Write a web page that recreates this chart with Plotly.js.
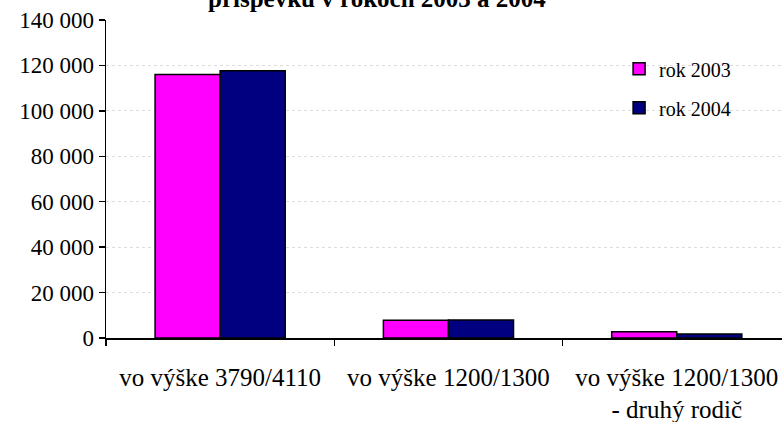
<!DOCTYPE html>
<html>
<head>
<meta charset="utf-8">
<script src="https://cdn.plot.ly/plotly-3.0.1.min.js"></script>
<style>html,body{margin:0;padding:0;background:#fff;}#chart{width:782px;height:422px;}</style>
</head>
<body>
<div id="chart"></div>
<script>
const categories = ["vo výške 3790/4110", "vo výške 1200/1300", "vo výške 1200/1300<br>- druhý rodič"];
const seriesNames = ["rok 2003", "rok 2004"];
const rok2003 = [116000, 7800, 2700];
const rok2004 = [117700, 7900, 1800];
const yTicks = [0, 20000, 40000, 60000, 80000, 100000, 120000, 140000];
const titleText = "príspevku v rokoch 2003 a 2004";

const font = "Liberation Serif, Times New Roman, serif";
const traces = [
  {type: "bar", name: seriesNames[0], x: categories, y: rok2003, legendgroup: "a",
   marker: {color: "#ff00ff", line: {color: "#000000", width: 1.5}}},
  {type: "bar", name: seriesNames[1], x: categories, y: rok2004, legendgroup: "b",
   marker: {color: "#000080", line: {color: "#000000", width: 1.5}}}
];
const layout = {
  width: 782, height: 422,
  margin: {l: 106, r: 0, t: 20, b: 84},
  paper_bgcolor: "#ffffff", plot_bgcolor: "#ffffff",
  font: {family: font, color: "#000000"},
  separators: ", ",
  barmode: "group", bargap: 0.43, bargroupgap: 0,
  showlegend: true,
  annotations: [{text: "<b>" + titleText + "</b>", font: {family: font, size: 25, color: "#000"},
          x: 0.401, xanchor: "center", xref: "paper", yref: "paper", y: 1.019, yanchor: "bottom",
          showarrow: false}],
  legend: {x: 0.759, xanchor: "left", y: 0.908, yanchor: "top", font: {family: font, size: 20},
           bgcolor: "rgba(0,0,0,0)", tracegroupgap: 10, itemwidth: 30},
  xaxis: {type: "category", range: [-0.5, 2.461], tickson: "boundaries", ticks: "outside",
          ticklen: 6, tickwidth: 1.5, tickcolor: "#000", showline: true, linecolor: "#000", linewidth: 1.5,
          showgrid: false, tickfont: {family: font, size: 25}, ticklabelstandoff: 16, fixedrange: true},
  yaxis: {range: [0, 140000], tickvals: yTicks, tickformat: ",d", ticks: "outside", ticklen: 6,
          tickwidth: 1.5, tickcolor: "#000", showline: true, linecolor: "#000", linewidth: 1.5,
          showgrid: true, gridcolor: "#dcdcdc", griddash: "dot", gridwidth: 1, zeroline: false,
          tickfont: {family: font, size: 23}, fixedrange: true}
};
Plotly.newPlot("chart", traces, layout, {displayModeBar: false, staticPlot: true});
</script>
</body>
</html>
